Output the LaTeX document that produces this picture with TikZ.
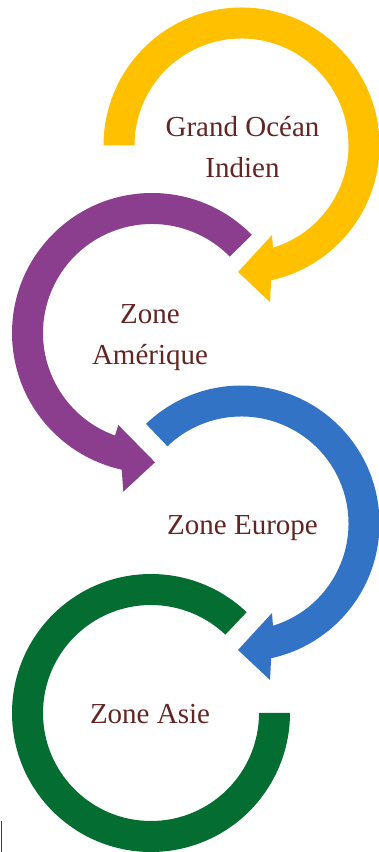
\documentclass[tikz,border=0pt]{standalone}
\usepackage{fontspec}
\setmainfont{Liberation Serif}
\definecolor{cyel}{HTML}{FFC000}
\definecolor{cpur}{HTML}{8C3E8E}
\definecolor{cblu}{HTML}{3273C6}
\definecolor{cgre}{HTML}{036D32}
\definecolor{ctxt}{HTML}{632523}
\tikzset{
  lbl/.style={text=ctxt, font=\fontsize{29}{41}\selectfont, align=center, inner sep=0pt},
}
\begin{document}
\begin{tikzpicture}[x=1pt,y=1pt]
\useasboundingbox (0,0) rectangle (379,852);
% yellow arrow
\begin{scope}[shift={(241.5,706.5)}]
\fill[cyel] (180:138pt) arc[start angle=180,end angle=-77.6,radius=138pt]
  -- (28.5,-156.5) -- (-3.5,-126.5) -- (30.5,-89.5)
  -- (-72.9:107pt) arc[start angle=-72.9,end angle=180,radius=107pt] -- cycle;
\end{scope}
% purple arrow
\begin{scope}[shift={(152,519)}]
\fill[cpur] (44.5:140pt) arc[start angle=44.5,end angle=257.5,radius=140pt]
  -- (-28.7,-158.7) -- (3,-129.3) -- (-33.7,-92)
  -- (250.2:109pt) arc[start angle=250.2,end angle=44.5,radius=109pt] -- cycle;
\end{scope}
% blue arrow
\begin{scope}[shift={(241.5,328.5)}]
\fill[cblu] (133.8:138pt) arc[start angle=133.8,end angle=-77.6,radius=138pt]
  -- (28.5,-156.5) -- (-3.5,-126.5) -- (30.5,-89.5)
  -- (-72.9:107pt) arc[start angle=-72.9,end angle=133.8,radius=107pt] -- cycle;
\end{scope}
% green ring
\begin{scope}[shift={(151,139)}]
\fill[cgre] (46.5:139pt) arc[start angle=46.5,end angle=360,radius=139pt]
  -- (360:108pt) arc[start angle=360,end angle=46.5,radius=108pt] -- cycle;
\end{scope}
% stray frame mark
\draw[line width=1.5pt, black!75] (1.5,0) -- (1.5,31);
% labels
\node[lbl] (t1) at (242.5,704.5) {Grand Océan\\Indien};
\node[lbl] (t2) at (150,514.5) {Zone\\Amérique};
\node[lbl, anchor=base] (t3) at (242.5,317) {Zone Europe};
\node[lbl, anchor=base] (t4) at (150,128) {Zone Asie};
\end{tikzpicture}
\end{document}
